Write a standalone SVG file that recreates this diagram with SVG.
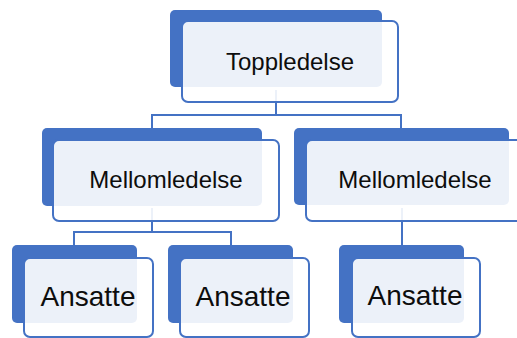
<svg xmlns="http://www.w3.org/2000/svg" width="517" height="338" viewBox="0 0 517 338">
<style>
.back{fill:#4472C4}
.front{fill:#ffffff;fill-opacity:0.9;stroke:#4472C4;stroke-width:2}
.conn{fill:none;stroke:#4472C4;stroke-width:2}
.lbl{font-family:"Liberation Sans",Arial,sans-serif;fill:#0d0d0d;text-anchor:middle}
.m{font-size:24px}
.a{font-size:28px}
</style>
<rect width="517" height="338" fill="#ffffff"/>
<g id="connectors">
<path class="conn" d="M276,90 V115 M152,115 H401 M152,114 V128 M401,114 V128"/>
<path class="conn" d="M152,208 V232 M74,232 H231 M74,231 V245 M231,231 V245"/>
<path class="conn" d="M402,208 V245"/>
</g>
<g id="toppledelse">
<rect class="back" x="170" y="10" width="212" height="77" rx="5"/>
<rect class="front" x="182" y="21" width="216" height="81" rx="6"/>
<text class="lbl m" x="290" y="70">Toppledelse</text>
</g>
<g id="mellomledelse1">
<rect class="back" x="42" y="128" width="220" height="78" rx="5"/>
<rect class="front" x="53" y="140" width="226" height="81" rx="6"/>
<text class="lbl m" x="166" y="188">Mellomledelse</text>
</g>
<g id="mellomledelse2">
<rect class="back" x="294" y="128" width="215" height="77" rx="5"/>
<rect class="front" x="306" y="140" width="226" height="81" rx="6"/>
<text class="lbl m" x="415" y="188">Mellomledelse</text>
</g>
<g id="ansatte1">
<rect class="back" x="12" y="245" width="125" height="78" rx="5"/>
<rect class="front" x="24" y="258" width="129" height="79" rx="6"/>
<text class="lbl a" x="88" y="306">Ansatte</text>
</g>
<g id="ansatte2">
<rect class="back" x="168" y="245" width="125" height="78" rx="5"/>
<rect class="front" x="180" y="258" width="129" height="79" rx="6"/>
<text class="lbl a" x="243" y="306">Ansatte</text>
</g>
<g id="ansatte3">
<rect class="back" x="339" y="245" width="125" height="78" rx="5"/>
<rect class="front" x="352" y="258" width="128" height="79" rx="6"/>
<text class="lbl a" x="415" y="305">Ansatte</text>
</g>
</svg>
